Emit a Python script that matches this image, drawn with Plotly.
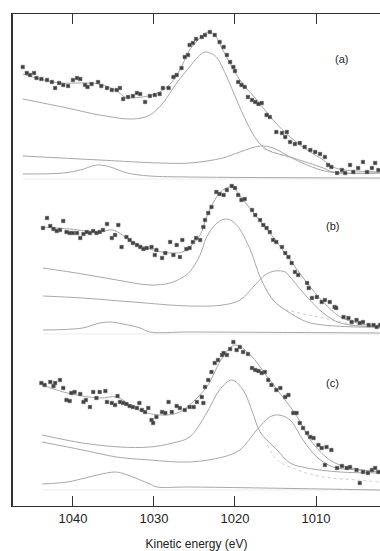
import plotly.graph_objects as go

# ---------------- Panel (a) ----------------
a_pts_E = [1046.2,1045.7,1045.3,1044.8,1044.5,1043.9,1043.2,1042.6,1042.2,1041.7,1041.2,1040.6,1040.0,1039.5,1039.1,
           1038.5,1038.2,1037.7,1036.9,1036.5,1035.8,1035.2,1034.6,1034.2,1033.8,1033.2,1032.6,1032.1,1031.7,1031.1,
           1030.5,1029.9,1029.3,1028.9,1028.2,1027.6,1027.2,1026.6,1026.2,1025.8,1025.6,1025.2,1024.8,1024.1,1023.7,
           1023.1,1022.5,1021.9,1021.4,1021.0,1020.6,1020.2,1020.0,1019.6,1019.2,1018.8,1018.4,1017.9,1017.5,1017.1,
           1016.7,1016.1,1015.7,1014.9,1014.2,1013.8,1013.6,1013.2,1012.6,1012.0,1011.4,1010.7,1010.1,1009.5,1008.9,
           1008.5,1008.1,1007.4,1006.8,1006.4,1005.8,1005.4,1004.8,1004.2,1003.7,1003.1,1002.7,1002.3]
a_pts_I = [439,433,431,433,428,427,426,424,418,423,421,420,426,428,427,
           421,419,422,424,420,418,416,416,418,407,409,410,413,412,404,
           410,411,412,418,418,429,431,438,449,451,461,463,467,469,471,
           474,471,464,459,451,444,439,435,424,421,419,409,406,404,402,
           403,391,389,374,373,369,374,364,362,363,359,356,354,352,349,
           341,339,333,336,333,341,334,338,344,334,338,343,336]
a_fit_E = [1046.2,1044.1,1041.6,1039.1,1036.7,1034.4,1033.6,1031.4,1029.3,1028.0,1026.8,1025.6,1024.3,1023.3,1022.5,
           1021.5,1019.4,1017.3,1015.3,1013.2,1011.1,1009.1,1007.9,1006.4,1002.1]
a_fit_I = [432,427,423,423,422,414,409,409,414,422,436,456,468,474,471,456,426,406,386,369,356,346,339,336,334]
a_p1_E = [1046.2,1040.7,1036.7,1032.6,1030.5,1028.9,1027.2,1025.6,1024.6,1023.7,1022.8,1022.2,1021.0,1019.8,1018.5,
          1017.3,1016.0,1013.2,1009.1,1007.9,1002.1]
a_p1_I = [407,398,391,387,391,403,423,439,449,454,452,448,429,406,383,366,356,349,338,334,333]
a_p2_E = [1046.2,1036.7,1029.3,1025.6,1021.5,1019.4,1016.9,1015.3,1013.2,1011.1,1008.3,1002.1]
a_p2_I = [350,346,343,343,348,354,360,358,349,341,334,333]
a_sat_E = [1046.2,1041.2,1039.1,1037.0,1035.4,1033.3,1030.5,1025.6,1002.1]
a_sat_I = [332,333,336,341,339,333,330,329,328]
a_dot_E = [1016.5,1015.0,1013.5]
a_dot_I = [357,353,349]
a_base_E = [1046.2,1002.1]
a_base_I = [327,327]

# ---------------- Panel (b) ----------------
b_pts_E = [1043.7,1043.2,1042.8,1042.4,1042.0,1041.6,1041.2,1040.8,1040.4,1040.0,1039.5,1039.1,1038.7,1038.3,1037.9,
           1037.5,1037.1,1036.7,1036.3,1035.8,1035.2,1034.8,1034.4,1034.0,1033.4,1033.0,1032.6,1032.1,1031.7,1031.3,
           1030.9,1030.3,1029.9,1029.7,1029.0,1028.6,1028.0,1027.6,1027.2,1026.8,1026.5,1026.0,1025.6,1025.2,1024.8,
           1024.3,1023.9,1023.7,1023.3,1022.9,1022.3,1021.9,1021.4,1021.0,1020.4,1020.0,1019.6,1019.2,1018.8,1017.9,
           1017.5,1016.9,1016.5,1016.1,1015.7,1015.3,1014.9,1014.2,1013.8,1013.4,1013.0,1012.6,1012.2,1011.1,1010.9,
           1010.5,1009.9,1009.3,1008.9,1008.3,1007.7,1007.5,1006.6,1006.0,1005.6,1005.0,1004.6,1004.2,1003.5,1002.9,
           1002.5,1002.1]
b_pts_I = [278,288,280,277,275,276,285,274,273,273,273,268,272,274,273,
           275,273,274,276,282,268,271,281,259,269,266,263,261,259,257,
           258,259,251,256,248,253,264,251,261,249,266,257,258,264,268,
           266,279,286,293,299,314,312,311,316,320,318,311,306,307,296,
           291,286,281,278,274,266,264,259,253,249,243,234,231,223,218,
           208,209,204,206,204,199,198,189,188,184,186,183,184,181,181,
           179,181]
b_fit_E = [1043.7,1040.4,1036.7,1035.1,1032.6,1030.1,1028.0,1026.5,1025.6,1024.3,1023.5,1022.5,1021.5,1020.4,1019.0,
           1017.3,1015.3,1013.2,1011.1,1009.1,1007.0,1004.9,1002.1]
b_fit_I = [279,277,274,276,264,256,253,254,259,271,289,306,316,319,306,289,269,246,223,204,189,183,179]
b_p1_E = [1043.7,1038.8,1034.6,1030.5,1028.0,1026.4,1025.6,1024.3,1023.5,1022.2,1021.0,1019.8,1018.1,1016.9,1015.3,
          1013.2,1011.1,1009.1,1004.9,1002.1]
b_p1_I = [238,232,226,221,223,229,234,251,269,283,287,281,256,229,206,193,184,181,179,179]
b_p2_E = [1043.7,1038.8,1032.6,1025.6,1021.5,1019.4,1017.3,1016.3,1015.1,1013.8,1013.2,1011.1,1009.1,1007.0,1002.1]
b_p2_I = [210,208,204,200,201,206,223,231,235,234,229,209,193,183,179]
b_sat_E = [1043.7,1038.8,1036.7,1035.4,1033.8,1031.7,1030.5,1025.6,1002.1]
b_sat_I = [176,178,183,184,182,178,174,174,173]
b_dot_E = [1016.2,1014.4,1012.0,1009.1,1005.0,1002.1]
b_dot_I = [218,199,193,188,181,178]
b_base_E = [1043.7,1002.1]
b_base_I = [172,172]

# ---------------- Panel (c) ----------------
c_pts_E = [1043.9,1043.5,1042.8,1042.4,1042.2,1041.6,1041.2,1040.8,1040.4,1040.2,1039.8,1039.1,1038.7,1038.4,1037.9,
           1037.5,1037.1,1036.7,1036.0,1035.8,1035.2,1034.8,1034.5,1034.2,1033.8,1033.4,1033.0,1032.6,1032.1,1031.8,
           1031.5,1031.1,1030.7,1030.3,1030.1,1029.7,1029.0,1028.6,1028.2,1027.8,1027.2,1026.8,1026.2,1025.6,1025.1,
           1024.7,1024.1,1023.9,1023.7,1023.3,1022.9,1022.5,1022.1,1021.6,1021.4,1021.0,1020.6,1020.2,1019.8,1019.4,
           1019.0,1018.4,1017.9,1017.5,1017.1,1016.7,1016.3,1015.9,1015.5,1014.9,1014.4,1013.8,1013.4,1012.8,1012.4,
           1012.0,1011.6,1011.1,1010.7,1010.3,1009.7,1009.3,1008.9,1008.7,1008.1,1007.4,1006.8,1006.2,1005.8,1005.0,
           1004.6,1004.2,1003.6,1003.1,1002.7,1002.3]
c_pts_I = [123,121,124,120,123,126,118,106,105,113,114,112,104,106,99,
           114,108,114,115,104,103,101,110,104,103,102,100,99,98,103,
           96,94,98,86,83,89,94,93,104,94,100,98,96,99,99,
           104,109,103,119,126,134,143,146,151,153,151,157,164,156,159,
           154,152,138,136,135,133,134,126,121,116,118,109,111,93,93,
           83,78,73,69,68,61,58,41,59,56,38,40,38,39,36,
           23,34,33,36,38,34]
c_fit_E = [1043.8,1040.7,1036.7,1034.6,1032.6,1030.9,1028.4,1026.8,1025.6,1023.5,1021.5,1020.0,1018.1,1016.0,1014.1,
           1012.3,1010.7,1008.3,1006.2,1002.1]
c_fit_I = [121,113,108,109,99,93,91,94,101,119,149,161,151,129,109,89,66,46,39,34]
c_p1_E = [1043.8,1038.8,1034.2,1030.5,1027.7,1025.6,1023.5,1021.9,1020.4,1019.0,1017.8,1016.9,1014.8,1013.2,1011.1,
          1007.0,1002.1]
c_p1_I = [71,63,59,59,63,69,93,116,126,116,93,74,56,43,38,34,33]
c_p2_E = [1043.8,1038.8,1034.6,1030.5,1025.6,1021.5,1019.4,1017.3,1015.7,1014.6,1013.2,1011.6,1009.9,1007.9,1004.9,1002.1]
c_p2_I = [64,56,49,46,44,49,56,76,89,91,86,66,49,39,36,34]
c_sat_E = [1043.8,1040.7,1038.5,1037.0,1034.8,1033.6,1032.6,1030.5,1029.6,1025.6,1002.1]
c_sat_I = [22,24,28,31,34,32,29,22,19,19,16]
c_dot_E = [1016.0,1014.8,1012.3,1009.1,1004.9,1002.1]
c_dot_I = [61,46,36,29,26,24]
c_base_E = [1043.8,1002.1]
c_base_I = [16,16]

panel_labels = ["(a)", "(b)", "(c)"]
label_E = [1006.8, 1008.0, 1008.0]
label_I = [447, 280, 123]

tick_vals = [1040, 1030, 1020, 1010]
tick_text = ["1040", "1030", "1020", "1010"]

LINE = "#a8a8a8"
DOT = "#404040"

fig = go.Figure()

panels = [
    (a_pts_E, a_pts_I, a_fit_E, a_fit_I, a_p1_E, a_p1_I, a_p2_E, a_p2_I, a_sat_E, a_sat_I, a_dot_E, a_dot_I, a_base_E, a_base_I),
    (b_pts_E, b_pts_I, b_fit_E, b_fit_I, b_p1_E, b_p1_I, b_p2_E, b_p2_I, b_sat_E, b_sat_I, b_dot_E, b_dot_I, b_base_E, b_base_I),
    (c_pts_E, c_pts_I, c_fit_E, c_fit_I, c_p1_E, c_p1_I, c_p2_E, c_p2_I, c_sat_E, c_sat_I, c_dot_E, c_dot_I, c_base_E, c_base_I),
]

for (pE, pI, fE, fI, m1E, m1I, m2E, m2I, sE, sI, dE, dI, bE, bI) in panels:
    fig.add_trace(go.Scatter(x=bE, y=bI, mode="lines", line=dict(color="#ececec", width=1), hoverinfo="skip"))
    fig.add_trace(go.Scatter(x=sE, y=sI, mode="lines", line=dict(color=LINE, width=1, shape="spline"), hoverinfo="skip"))
    fig.add_trace(go.Scatter(x=dE, y=dI, mode="lines", line=dict(color="#cfcfcf", width=1, dash="dot", shape="spline"), hoverinfo="skip"))
    fig.add_trace(go.Scatter(x=m2E, y=m2I, mode="lines", line=dict(color=LINE, width=1, shape="spline"), hoverinfo="skip"))
    fig.add_trace(go.Scatter(x=m1E, y=m1I, mode="lines", line=dict(color=LINE, width=1, shape="spline"), hoverinfo="skip"))
    fig.add_trace(go.Scatter(x=fE, y=fI, mode="lines", line=dict(color=LINE, width=1, shape="spline"), hoverinfo="skip"))
    fig.add_trace(go.Scatter(x=pE, y=pI, mode="markers",
                             marker=dict(symbol="square", size=3.5, color=DOT, line=dict(width=0.5, color="#606060")),
                             hoverinfo="skip"))

for txt, e, i in zip(panel_labels, label_E, label_I):
    fig.add_annotation(x=e, y=i, text=txt, showarrow=False,
                       font=dict(family="Liberation Sans, Arial, sans-serif", size=11, color="#222"))

fig.update_layout(
    width=380, height=551,
    margin=dict(l=13, r=0, t=14, b=45),
    paper_bgcolor="white", plot_bgcolor="white",
    showlegend=False,
    font=dict(family="Liberation Sans, Arial, sans-serif", size=12, color="#222"),
)
fig.update_xaxes(
    range=[1047.4, 1002.1], tickvals=tick_vals, ticktext=tick_text,
    ticks="inside", ticklen=10, tickwidth=1, tickcolor="#333",
    showline=True, linecolor="#333", linewidth=1.2, mirror="ticks",
    showgrid=False, zeroline=False,
    title=dict(text="Kinetic energy (eV)", standoff=14, font=dict(size=12)),
    tickfont=dict(size=13, color="#222"),
)
fig.update_yaxes(
    range=[0, 492], showticklabels=False, ticks="",
    showline=True, linecolor="#333", linewidth=1.5, mirror=False,
    showgrid=False, zeroline=False,
)

fig.write_html(
    "out.html",
    config={"displayModeBar": False},
    post_script="document.body.style.margin='0';document.body.style.overflow='hidden';",
)
